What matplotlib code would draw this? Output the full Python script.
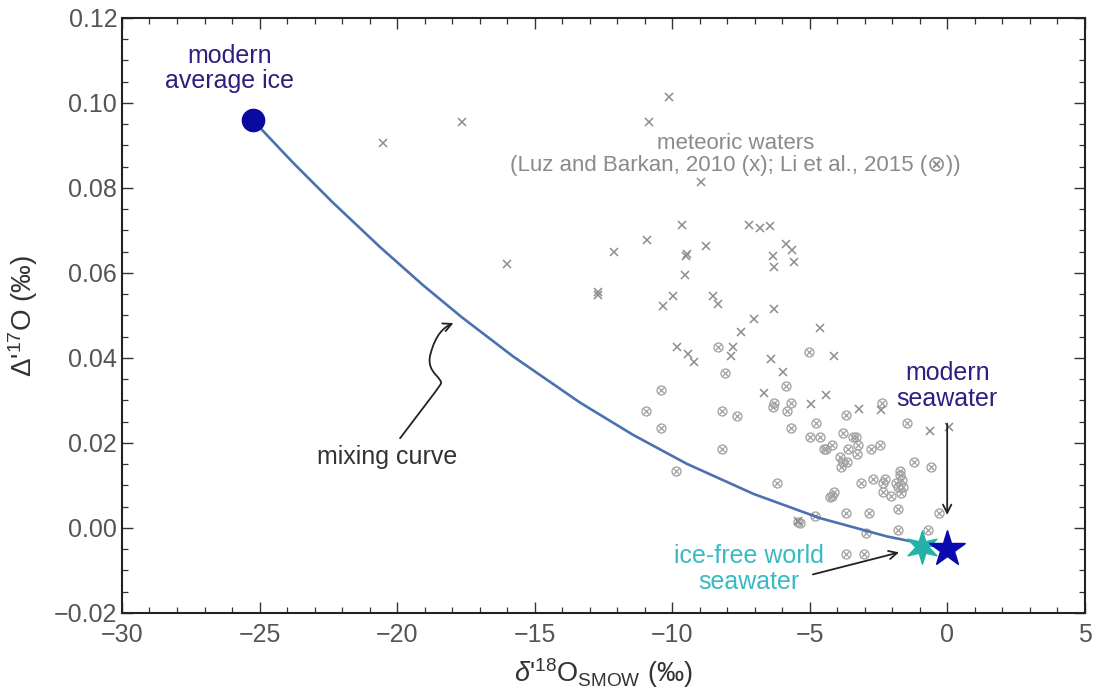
import matplotlib
matplotlib.use("Agg")
import numpy as np
import matplotlib.pyplot as plt
from matplotlib.path import Path
from matplotlib.patches import FancyArrowPatch
from matplotlib.ticker import MultipleLocator

plt.rcParams['font.family'] = ['Liberation Sans', 'DejaVu Sans']
plt.rcParams['mathtext.fontset'] = 'custom'
plt.rcParams['mathtext.rm'] = 'Liberation Sans'
plt.rcParams['mathtext.it'] = 'Liberation Sans:italic'

# Luz and Barkan 2010 (x)
luz_x = [-10.10, -17.65, -10.84, -20.50, -8.95, -9.64, -7.19, -6.80, -6.44, -10.92,
         -8.78, -5.87, -5.63, -12.10, -9.50, -9.47, -6.35, -6.29, -5.56, -15.99,
         -9.54, -12.68, -12.68, -9.95, -10.32, -8.52, -8.33, -6.28, -7.04, -7.50,
         -4.64, -9.81, -9.41, -9.20, -7.79, -7.85, -6.41, -5.97, -4.12, -6.65,
         -4.40, -4.95, -3.20, -2.41, -0.64, 0.05, -5.42]
luz_y = [0.1015, 0.0956, 0.0956, 0.0905, 0.0813, 0.0713, 0.0713, 0.0705, 0.0711, 0.0678,
         0.0664, 0.0668, 0.0654, 0.0649, 0.0641, 0.0644, 0.0641, 0.0615, 0.0625, 0.0620,
         0.0595, 0.0556, 0.0548, 0.0545, 0.0523, 0.0545, 0.0526, 0.0515, 0.0491, 0.0462,
         0.0471, 0.0425, 0.0409, 0.0390, 0.0425, 0.0405, 0.0397, 0.0366, 0.0405, 0.0318,
         0.0313, 0.0291, 0.0280, 0.0278, 0.0229, 0.0237, 0.0016]

# Li et al. 2015 (circled x)
li_x = [-8.34, -5.01, -8.06, -10.39, -5.85, -6.29, -6.34, -5.66, -5.81, -10.96,
        -8.18, -7.63, -2.37, -3.67, -10.39, -5.66, -4.77, -1.47, -4.98, -4.62,
        -3.77, -3.41, -3.31, -4.19, -4.47, -4.40, -3.59, -3.25, -3.28, -2.76,
        -2.46, -8.17, -3.89, -3.79, -3.65, -3.85, -1.20, -0.59, -9.87, -1.73,
        -1.71, -2.68, -2.25, -2.34, -1.85, -1.65, -1.61, -1.77, -2.32, -2.05,
        -1.67, -3.14, -6.17, -4.13, -4.19, -4.25, -1.77, -3.68, -2.86, -0.28,
        -4.80, -5.41, -5.35, -1.79, -2.95, -0.68, -3.68, -3.02]
li_y = [0.0425, 0.0415, 0.0364, 0.0325, 0.0334, 0.0295, 0.0285, 0.0295, 0.0274, 0.0274,
        0.0274, 0.0264, 0.0295, 0.0265, 0.0234, 0.0235, 0.0246, 0.0246, 0.0215, 0.0215,
        0.0224, 0.0215, 0.0213, 0.0195, 0.0185, 0.0185, 0.0185, 0.0195, 0.0174, 0.0185,
        0.0195, 0.0185, 0.0166, 0.0156, 0.0156, 0.0143, 0.0155, 0.0144, 0.0135, 0.0135,
        0.0125, 0.0115, 0.0115, 0.0105, 0.0105, 0.0113, 0.0096, 0.0096, 0.0085, 0.0075,
        0.0082, 0.0105, 0.0105, 0.0085, 0.0075, 0.0072, 0.0045, 0.0035, 0.0035, 0.0035,
        0.0027, 0.0015, 0.0011, -0.0005, -0.0012, -0.0005, -0.0062, -0.0062]

# mixing curve
mix_x = [-25.25, -23.79, -22.34, -20.62, -19.07, -17.65, -15.79, -13.35, -11.42,
         -9.47, -7.04, -4.62, -2.19, -0.98, -0.52]
mix_y = [0.0960, 0.0860, 0.0766, 0.0661, 0.0572, 0.0496, 0.0404, 0.0295, 0.0219,
         0.0151, 0.0080, 0.0023, -0.0020, -0.0036, -0.0042]

ice = (-25.25, 0.0960)
icefree = (-0.92, -0.0044)
seawater = (0.0, -0.0050)

xticks = [-30, -25, -20, -15, -10, -5, 0, 5]
yticks = [-0.02, 0.00, 0.02, 0.04, 0.06, 0.08, 0.10, 0.12]

# six-armed star marker shape
ang = np.pi / 2 + np.arange(12) * np.pi / 6
rad = np.where(np.arange(12) % 2 == 0, 1.0, 0.4)
star6 = Path(np.column_stack([rad * np.cos(ang), rad * np.sin(ang)]).tolist() + [[0, 1.0]],
             closed=True)

fig = plt.figure(figsize=(10.99, 6.91), dpi=100)
ax = fig.add_axes([0.111, 0.113, 0.876, 0.861])

gray = '#8c8c8c'
ax.plot(li_x, li_y, linestyle='none', marker='o', markersize=6.5, markerfacecolor='none',
        markeredgecolor='#a0a0a0', markeredgewidth=0.9, zorder=2)
ax.plot(li_x, li_y, linestyle='none', marker='x', markersize=3.8, markeredgecolor='#a0a0a0',
        markeredgewidth=0.9, zorder=2)
ax.plot(luz_x, luz_y, linestyle='none', marker='x', markersize=5.5, markeredgecolor=gray,
        markeredgewidth=1.1, zorder=2)

ax.plot(mix_x, mix_y, color='#4a72b0', lw=1.9, zorder=3, solid_capstyle='round')

ax.plot(*ice, marker='o', markersize=16, color='#0a0aa0', zorder=5)
ax.plot(*icefree, marker=star6, markersize=24, color='#25b0a8', zorder=5)
ax.plot(*seawater, marker='*', markersize=27, color='#0a0ab0', zorder=6)

ax.set_xlim(-30, 5)
ax.set_ylim(-0.02, 0.12)
ax.set_xticks(xticks)
ax.set_yticks(yticks)
ax.set_yticklabels([f"{v:.2f}".replace('-', '\u2212') for v in yticks])
ax.xaxis.set_minor_locator(MultipleLocator(1))
ax.yaxis.set_minor_locator(MultipleLocator(0.005))
ax.tick_params(which='both', direction='in', top=True, right=True, colors='#333333',
               labelcolor='#555555', labelsize=18)
ax.tick_params(axis='x', which='major', pad=7)
ax.tick_params(which='major', length=8, width=1.0)
ax.tick_params(which='minor', length=4.5, width=0.9)
for s in ax.spines.values():
    s.set_linewidth(1.5)
    s.set_color('#222222')

ax.set_xlabel(r"$\mathit{\delta}$'$^{18}$O$_{\mathrm{SMOW}}$ (‰)", fontsize=19.5,
              color='#333333', labelpad=7)
ax.set_ylabel(r"$\Delta$'$^{17}$O (‰)", fontsize=20, color='#333333', labelpad=10)

navy = '#2b1f80'
ax.text(-26.1, 0.1081, "modern\naverage ice", ha='center', va='center', fontsize=18,
        color=navy, linespacing=1.1)
ax.text(0.0, 0.0334, "modern\nseawater", ha='center', va='center', fontsize=18,
        color=navy, linespacing=1.1)
ax.text(-7.2, -0.00965, "ice-free world\nseawater", ha='center', va='center', fontsize=18,
        color='#3ab8c4', linespacing=1.1)
ax.text(-20.36, 0.0167, "mixing curve", ha='center', va='center', fontsize=18, color='#333333')
ax.text(-7.69, 0.0878, "meteoric waters\n(Luz and Barkan, 2010 (x); Li et al., 2015 (\u2297))",
        ha='center', va='center', fontsize=16, color='#8a8a8a', linespacing=1.05)

# arrows
ax.annotate("", xy=(0.0, 0.0024), xytext=(0.0, 0.0252),
            arrowprops=dict(arrowstyle='->', color='#222222', lw=1.3, mutation_scale=15))
ax.annotate("", xy=(-1.65, -0.0056), xytext=(-4.98, -0.0111),
            arrowprops=dict(arrowstyle='->', color='#222222', lw=1.3, mutation_scale=15))

verts = [(-19.89, 0.0211), (-19.2, 0.0270), (-18.6, 0.0320), (-18.45, 0.0335),
         (-18.2, 0.0352), (-19.0, 0.0362), (-18.78, 0.0410),
         (-18.6, 0.0455), (-18.3, 0.0472), (-17.95, 0.0482)]
codes = [Path.MOVETO, Path.CURVE4, Path.CURVE4, Path.CURVE4,
         Path.CURVE4, Path.CURVE4, Path.CURVE4,
         Path.CURVE4, Path.CURVE4, Path.CURVE4]
arr = FancyArrowPatch(path=Path(verts, codes), arrowstyle='->', color='#222222', lw=1.3,
                      mutation_scale=15)
ax.add_patch(arr)

fig.savefig("out.png", dpi=100)
